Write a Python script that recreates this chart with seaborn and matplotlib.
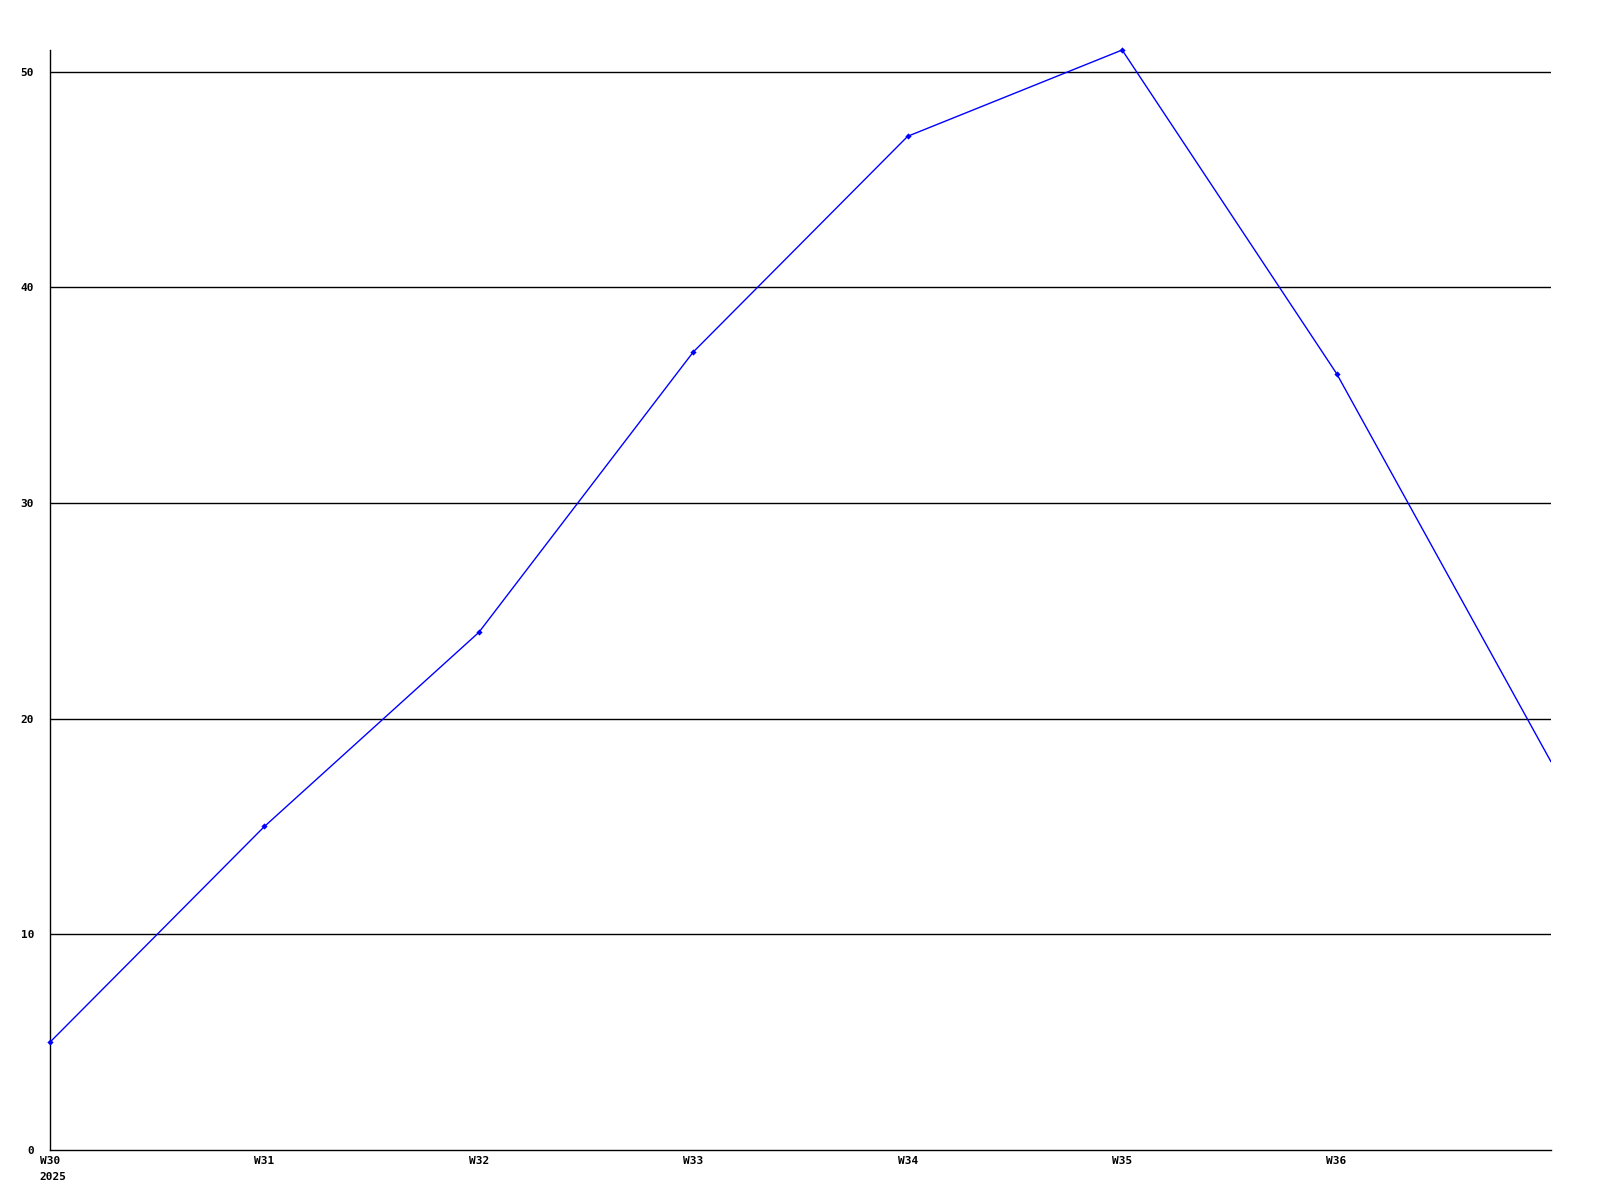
import matplotlib
matplotlib.use("Agg")
import matplotlib.pyplot as plt
import seaborn as sns
import pandas as pd

# weekly counts, the last week runs off the right edge
weeks = ["W30", "W31", "W32", "W33", "W34", "W35", "W36", "W37"]
counts = [5, 15, 24, 37, 47, 51, 36, 18]
tick_labels = ["W30", "W31", "W32", "W33", "W34", "W35", "W36"]
y_ticks = [0, 10, 20, 30, 40, 50]
year_label = "2025"

sns.set_style("white")
plt.rcParams['font.family'] = ['DejaVu Sans Mono', 'DejaVu Sans']

df = pd.DataFrame({"pos": range(len(weeks)), "week": weeks, "count": counts})

fig = plt.figure(figsize=(16, 12), dpi=100)
ax = fig.add_axes([50 / 1600, 50 / 1200, 1501 / 1600, 1100 / 1200])

for v in y_ticks[1:]:
    ax.axhline(v, color="black", lw=1, zorder=1)

# line and markers (no marker on the last, cut-off week)
sns.lineplot(data=df, x="pos", y="count", ax=ax, color="#0000ff", lw=1, zorder=3)
sns.scatterplot(data=df.iloc[:-1], x="pos", y="count", ax=ax, color="#0000ff",
                marker="D", s=10, linewidth=0, zorder=4, clip_on=False)

ax.set_xlim(0, len(weeks) - 1)
ax.set_ylim(0, 51)
ax.set_xticks(range(len(tick_labels)))
ax.set_xticklabels(tick_labels, fontsize=8, fontweight="bold")
ax.set_yticks(y_ticks)
ax.set_yticklabels([str(v) for v in y_ticks], fontsize=8, fontweight="bold")
ax.tick_params(axis="both", length=0, labelcolor="black")
ax.tick_params(axis="y", pad=11.5)
ax.tick_params(axis="x", pad=4)
ax.set_xlabel("")
ax.set_ylabel("")

for side in ["top", "right"]:
    ax.spines[side].set_visible(False)
for side in ["left", "bottom"]:
    ax.spines[side].set_color("black")
    ax.spines[side].set_linewidth(1)

fig.text(39 / 1600, 1 - 1177 / 1200, year_label, fontsize=8, color="black",
         fontweight="bold", ha="left", va="center")

fig.savefig("out.png", dpi=100, facecolor="white")
